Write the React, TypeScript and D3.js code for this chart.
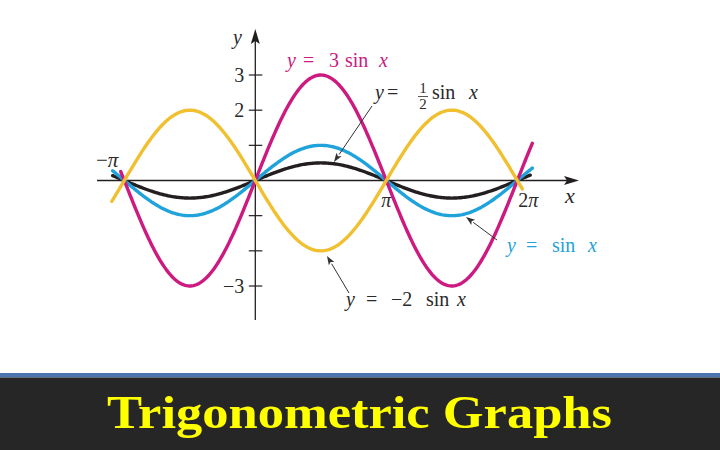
import React from "react";
import * as d3 from "d3";

// ---- data ----
const seriesNames = ["y = 1/2 sin x", "y = sin x", "y = 3 sin x", "y = −2 sin x"];
const amplitudes = [0.5, 1, 3, -2];
const startOffsets = [0.28, 0.28, 0.085, 0.3]; // radians before −π where each curve starts
const endOffsets = [0.31, 0.36, 0.36, 0.12]; // radians after 2π where each curve ends
const seriesColors = ["#231f20", "#1fa3da", "#cc1a80", "#f0c030"];
const yTickValues = [-3, -2, -1, 1, 2, 3];
const yTickLabels = ["−3", "", "", "", "2", "3"];
const xTickValues = [-Math.PI, Math.PI, 2 * Math.PI];
const xTickLabels = ["−π", "π", "2π"];
const title = "Trigonometric Graphs";

const W = 720;
const H = 450;
const serif = "'Liberation Serif', 'Times New Roman', serif";
const ink = "#2a2a2a";

export default function App() {
  const x = d3.scaleLinear().domain([-Math.PI, 2 * Math.PI]).range([124.3, 517.3]);
  const y = d3.scaleLinear().domain([-3, 3]).range([286, 75]);
  const x0 = x(0);
  const y0 = y(0);

  const line = d3
    .line<[number, number]>()
    .x((d) => x(d[0]))
    .y((d) => y(d[1]))
    .curve(d3.curveLinear);

  const curves = amplitudes.map((a, i) => {
    const lo = -Math.PI - startOffsets[i];
    const hi = 2 * Math.PI + endOffsets[i];
    const pts: [number, number][] = d3
      .range(0, 301)
      .map((k) => lo + ((hi - lo) * k) / 300)
      .map((t) => [t, a * Math.sin(t)]);
    return { d: line(pts) || "", color: seriesColors[i], name: seriesNames[i] };
  });

  const arrowHead = (x1: number, y1: number, x2: number, y2: number, color = "#333") => {
    const ang = Math.atan2(y2 - y1, x2 - x1);
    const L = 9;
    const w = 3.2;
    const bx = x2 - L * Math.cos(ang);
    const by = y2 - L * Math.sin(ang);
    const px = -Math.sin(ang) * w;
    const py = Math.cos(ang) * w;
    return (
      <g>
        <line x1={x1} y1={y1} x2={bx} y2={by} stroke={color} strokeWidth={1} />
        <path d={`M${x2},${y2}L${bx + px},${by + py}L${bx + 2 * Math.cos(ang)},${by + 2 * Math.sin(ang)}L${bx - px},${by - py}Z`} fill={color} />
      </g>
    );
  };

  const labelStyle = { fontFamily: serif, fontSize: 20 } as const;

  return (
    <svg width={W} height={H} style={{ position: "absolute", left: 0, top: 0, background: "#fff" }}>
      <rect x={0} y={0} width={W} height={H} fill="#ffffff" />

      {/* axes */}
      <line x1={97} y1={y0} x2={572} y2={y0} stroke="#231f20" strokeWidth={1.3} />
      <path d={`M579,${y0}L564,${y0 - 4.5}L567,${y0}L564,${y0 + 4.5}Z`} fill="#231f20" />
      <line x1={x0} y1={320} x2={x0} y2={37} stroke="#231f20" strokeWidth={1.3} />
      <path d={`M${x0},29L${x0 - 4.5},44L${x0},41L${x0 + 4.5},44Z`} fill="#231f20" />

      {yTickValues.map((v, i) => (
        <g key={"yt" + i}>
          <line x1={x0 - 6.5} x2={x0 + 7} y1={y(v)} y2={y(v)} stroke="#231f20" strokeWidth={1.2} />
          {yTickLabels[i] && (
            <text x={x0 - 11} y={y(v) + 7} textAnchor="end" style={labelStyle} fill={ink}>
              {yTickLabels[i]}
            </text>
          )}
        </g>
      ))}

      {/* x tick labels */}
      <text x={96} y={167} style={{ ...labelStyle, fontSize: 21 }} fill={ink}>
        <tspan>−</tspan>
        <tspan fontStyle="italic">π</tspan>
      </text>
      <text x={x(xTickValues[1]) - 5} y={207} style={{ ...labelStyle, fontStyle: "italic" }} fill={ink}>
        {xTickLabels[1]}
      </text>
      <text x={x(xTickValues[2]) + 1} y={207} style={labelStyle} fill={ink}>
        2<tspan fontStyle="italic">π</tspan>
      </text>

      {/* axis labels */}
      <text x={233} y={44} style={{ ...labelStyle, fontStyle: "italic" }} fill={ink}>y</text>
      <text x={565} y={203} style={{ ...labelStyle, fontStyle: "italic", fontSize: 22 }} fill={ink}>x</text>

      {/* curves */}
      {curves.map((c, i) => (
        <path key={i} d={c.d} fill="none" stroke={c.color} strokeWidth={3.4} strokeLinecap="round" />
      ))}

      {/* labels */}
      <text style={labelStyle} fill="#cc1a80" y={67}>
        <tspan x={287} fontStyle="italic">y</tspan>
        <tspan x={303}>=</tspan>
        <tspan x={329}>3</tspan>
        <tspan x={345}>sin</tspan>
        <tspan x={379} fontStyle="italic">x</tspan>
      </text>

      <text style={labelStyle} fill={ink} y={99}>
        <tspan x={375} fontStyle="italic">y</tspan>
        <tspan x={387}>=</tspan>
        <tspan x={432}>sin</tspan>
        <tspan x={469} fontStyle="italic">x</tspan>
      </text>
      <text style={{ ...labelStyle, fontSize: 15 }} fill={ink} x={423} y={93} textAnchor="middle">1</text>
      <line x1={418} x2={428} y1={96.5} y2={96.5} stroke={ink} strokeWidth={0.8} />
      <text style={{ ...labelStyle, fontSize: 15 }} fill={ink} x={423} y={108.5} textAnchor="middle">2</text>
      {arrowHead(372, 106, 334, 162)}

      <text style={labelStyle} fill="#1fa3da" y={252}>
        <tspan x={507} fontStyle="italic">y</tspan>
        <tspan x={526}>=</tspan>
        <tspan x={552}>sin</tspan>
        <tspan x={588} fontStyle="italic">x</tspan>
      </text>
      {arrowHead(497, 240, 466, 217)}

      <text style={labelStyle} fill={ink} y={306}>
        <tspan x={346} fontStyle="italic">y</tspan>
        <tspan x={366}>=</tspan>
        <tspan x={391}>−2</tspan>
        <tspan x={426}>sin</tspan>
        <tspan x={457} fontStyle="italic">x</tspan>
      </text>
      {arrowHead(349, 293, 327, 256)}

      {/* footer */}
      <rect x={0} y={373} width={W} height={4.5} fill="#4a76ad" />
      <rect x={0} y={377.5} width={W} height={H - 377.5} fill="#262626" />
      <text
        x={107}
        y={428}
        textLength={505}
        lengthAdjust="spacingAndGlyphs"
        style={{ fontFamily: serif, fontSize: 46, fontWeight: "bold" }}
        fill="#ffff00"
      >
        {title}
      </text>
    </svg>
  );
}
